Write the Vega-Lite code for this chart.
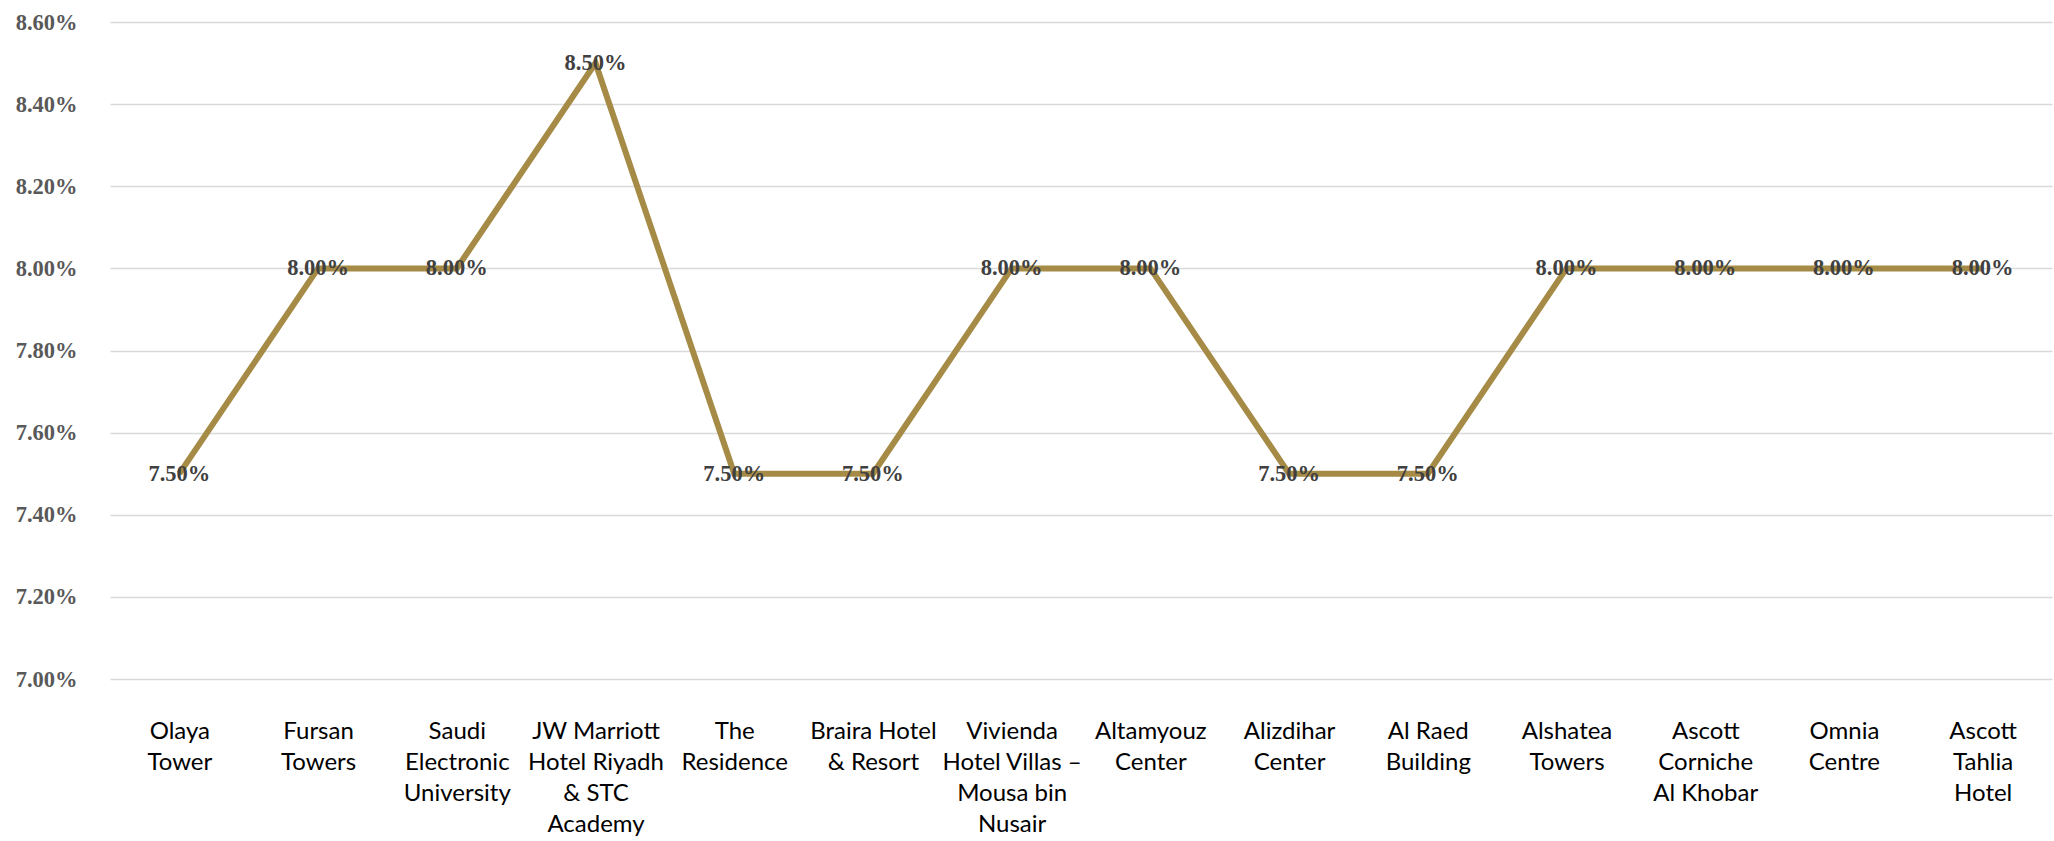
{
  "$schema": "https://vega.github.io/schema/vega-lite/v6.json",
  "width": 1942,
  "height": 657,
  "autosize": {"type": "none"},
  "padding": {"left": 110, "top": 22, "right": 2, "bottom": 162},
  "background": "white",
  "config": {"view": {"stroke": null}},
  "data": {
    "values": [
      {"property": "Olaya\nTower", "cap_rate": 0.075},
      {"property": "Fursan\nTowers", "cap_rate": 0.08},
      {"property": "Saudi\nElectronic\nUniversity", "cap_rate": 0.08},
      {"property": "JW Marriott\nHotel Riyadh\n& STC\nAcademy", "cap_rate": 0.085},
      {"property": "The\nResidence", "cap_rate": 0.075},
      {"property": "Braira Hotel\n& Resort", "cap_rate": 0.075},
      {"property": "Vivienda\nHotel Villas –\nMousa bin\nNusair", "cap_rate": 0.08},
      {"property": "Altamyouz\nCenter", "cap_rate": 0.08},
      {"property": "Alizdihar\nCenter", "cap_rate": 0.075},
      {"property": "Al Raed\nBuilding", "cap_rate": 0.075},
      {"property": "Alshatea\nTowers", "cap_rate": 0.08},
      {"property": "Ascott\nCorniche\nAl Khobar", "cap_rate": 0.08},
      {"property": "Omnia\nCentre", "cap_rate": 0.08},
      {"property": "Ascott\nTahlia\nHotel", "cap_rate": 0.08}
    ]
  },
  "encoding": {
    "x": {
      "field": "property",
      "type": "nominal",
      "sort": null,
      "scale": {"type": "point", "padding": 0.5},
      "axis": {
        "title": null,
        "domain": false,
        "ticks": false,
        "grid": false,
        "labelAngle": 0,
        "labelExpr": "split(datum.value, '\\n')",
        "labelFont": "Lato",
        "labelFontSize": 24,
        "labelLineHeight": 31,
        "labelColor": "#000000",
        "labelPadding": 40,
        "labelBaseline": "top",
        "labelAlign": "center",
        "labelOverlap": false,
        "labelLimit": 0
      }
    },
    "y": {
      "field": "cap_rate",
      "type": "quantitative",
      "scale": {"domain": [0.07, 0.086], "nice": false, "zero": false},
      "axis": {
        "title": null,
        "format": ".2%",
        "values": [0.07, 0.072, 0.074, 0.076, 0.078, 0.08, 0.082, 0.084, 0.086],
        "domain": false,
        "ticks": false,
        "grid": true,
        "gridColor": "#D9D9D9",
        "gridWidth": 1.5,
        "labelFont": "Liberation Serif",
        "labelFontWeight": "bold",
        "labelFontSize": 22.5,
        "labelColor": "#595959",
        "labelPadding": 33
      }
    }
  },
  "layer": [
    {
      "mark": {"type": "line", "color": "#A68B47", "strokeWidth": 6, "strokeJoin": "miter"}
    },
    {
      "mark": {
        "type": "text",
        "font": "Liberation Serif",
        "fontWeight": "bold",
        "fontSize": 22.5,
        "color": "#404040",
        "align": "center",
        "baseline": "middle"
      },
      "encoding": {"text": {"field": "cap_rate", "type": "quantitative", "format": ".2%"}}
    }
  ]
}
